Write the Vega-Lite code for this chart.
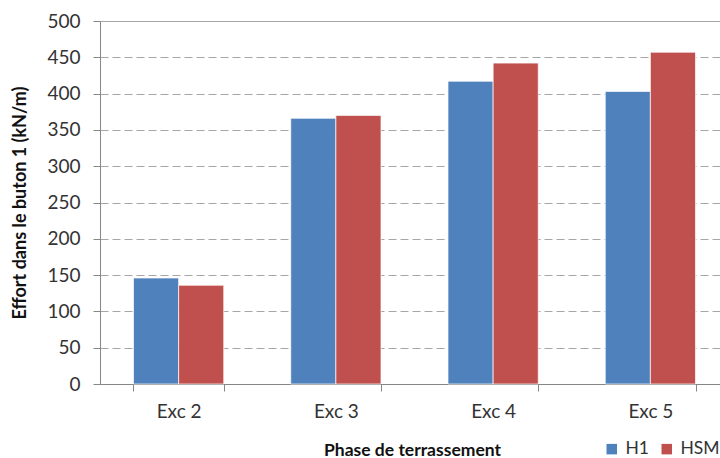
{
  "$schema": "https://vega.github.io/schema/vega-lite/v6.json",
  "autosize": {"type": "none"},
  "padding": {"left": 100, "top": 21, "right": 0, "bottom": 74},
  "width": 620,
  "height": 363,
  "background": "white",
  "data": {
    "values": [
      {"phase": "Exc 2", "series": "H1", "effort": 146},
      {"phase": "Exc 2", "series": "HSM", "effort": 136},
      {"phase": "Exc 3", "series": "H1", "effort": 366},
      {"phase": "Exc 3", "series": "HSM", "effort": 370},
      {"phase": "Exc 4", "series": "H1", "effort": 417},
      {"phase": "Exc 4", "series": "HSM", "effort": 442},
      {"phase": "Exc 5", "series": "H1", "effort": 403},
      {"phase": "Exc 5", "series": "HSM", "effort": 457}
    ]
  },
  "config": {
    "view": {"stroke": null},
    "font": "Lato",
    "axis": {"labelFont": "Lato", "titleFont": "Lato", "labelColor": "#333333", "titleColor": "#111111"},
    "legend": {"labelFont": "Lato"}
  },
  "mark": {"type": "bar", "stroke": "#ffffff", "strokeWidth": 1, "strokeOpacity": 0.7},
  "encoding": {
    "x": {
      "field": "phase",
      "type": "nominal",
      "scale": {"range": [0, 629], "paddingInner": 0.426, "paddingOuter": 0.213},
      "axis": {
        "title": "Phase de terrassement",
        "titleFontSize": 17.5,
        "titleFontWeight": "bold",
        "titlePadding": 20,
        "titleX": 312,
        "labelAngle": 0,
        "labelFontSize": 19,
        "labelPadding": 11,
        "tickBand": "extent",
        "tickSize": 7,
        "tickColor": "#868686",
        "domainColor": "#868686",
        "grid": false
      }
    },
    "xOffset": {"field": "series", "type": "nominal", "sort": ["H1", "HSM"]},
    "y": {
      "field": "effort",
      "type": "quantitative",
      "scale": {"domain": [0, 500], "nice": false},
      "axis": {
        "title": "Effort dans le buton 1 (kN/m)",
        "titleFontSize": 18,
        "titleFontWeight": "bold",
        "titlePadding": 17,
        "values": [0, 50, 100, 150, 200, 250, 300, 350, 400, 450, 500],
        "labelFontSize": 19,
        "labelPadding": 13,
        "tickSize": 7,
        "tickColor": "#868686",
        "domainColor": "#868686",
        "gridColor": "#a6a6a6",
        "gridDash": {"condition": {"test": "datum.value == 500", "value": []}, "value": [8, 4]},
        "gridWidth": 1
      }
    },
    "color": {
      "field": "series",
      "type": "nominal",
      "sort": ["H1", "HSM"],
      "scale": {"domain": ["H1", "HSM"], "range": ["#4f81bd", "#c0504d"]},
      "legend": {
        "title": null,
        "orient": "none",
        "direction": "horizontal",
        "legendX": 503,
        "legendY": 419,
        "padding": 0,
        "symbolType": "square",
        "symbolSize": 110,
        "symbolStrokeWidth": 0,
        "labelFontSize": 17.5,
        "labelColor": "#333333",
        "labelOffset": 5,
        "columnPadding": 8
      }
    }
  }
}
